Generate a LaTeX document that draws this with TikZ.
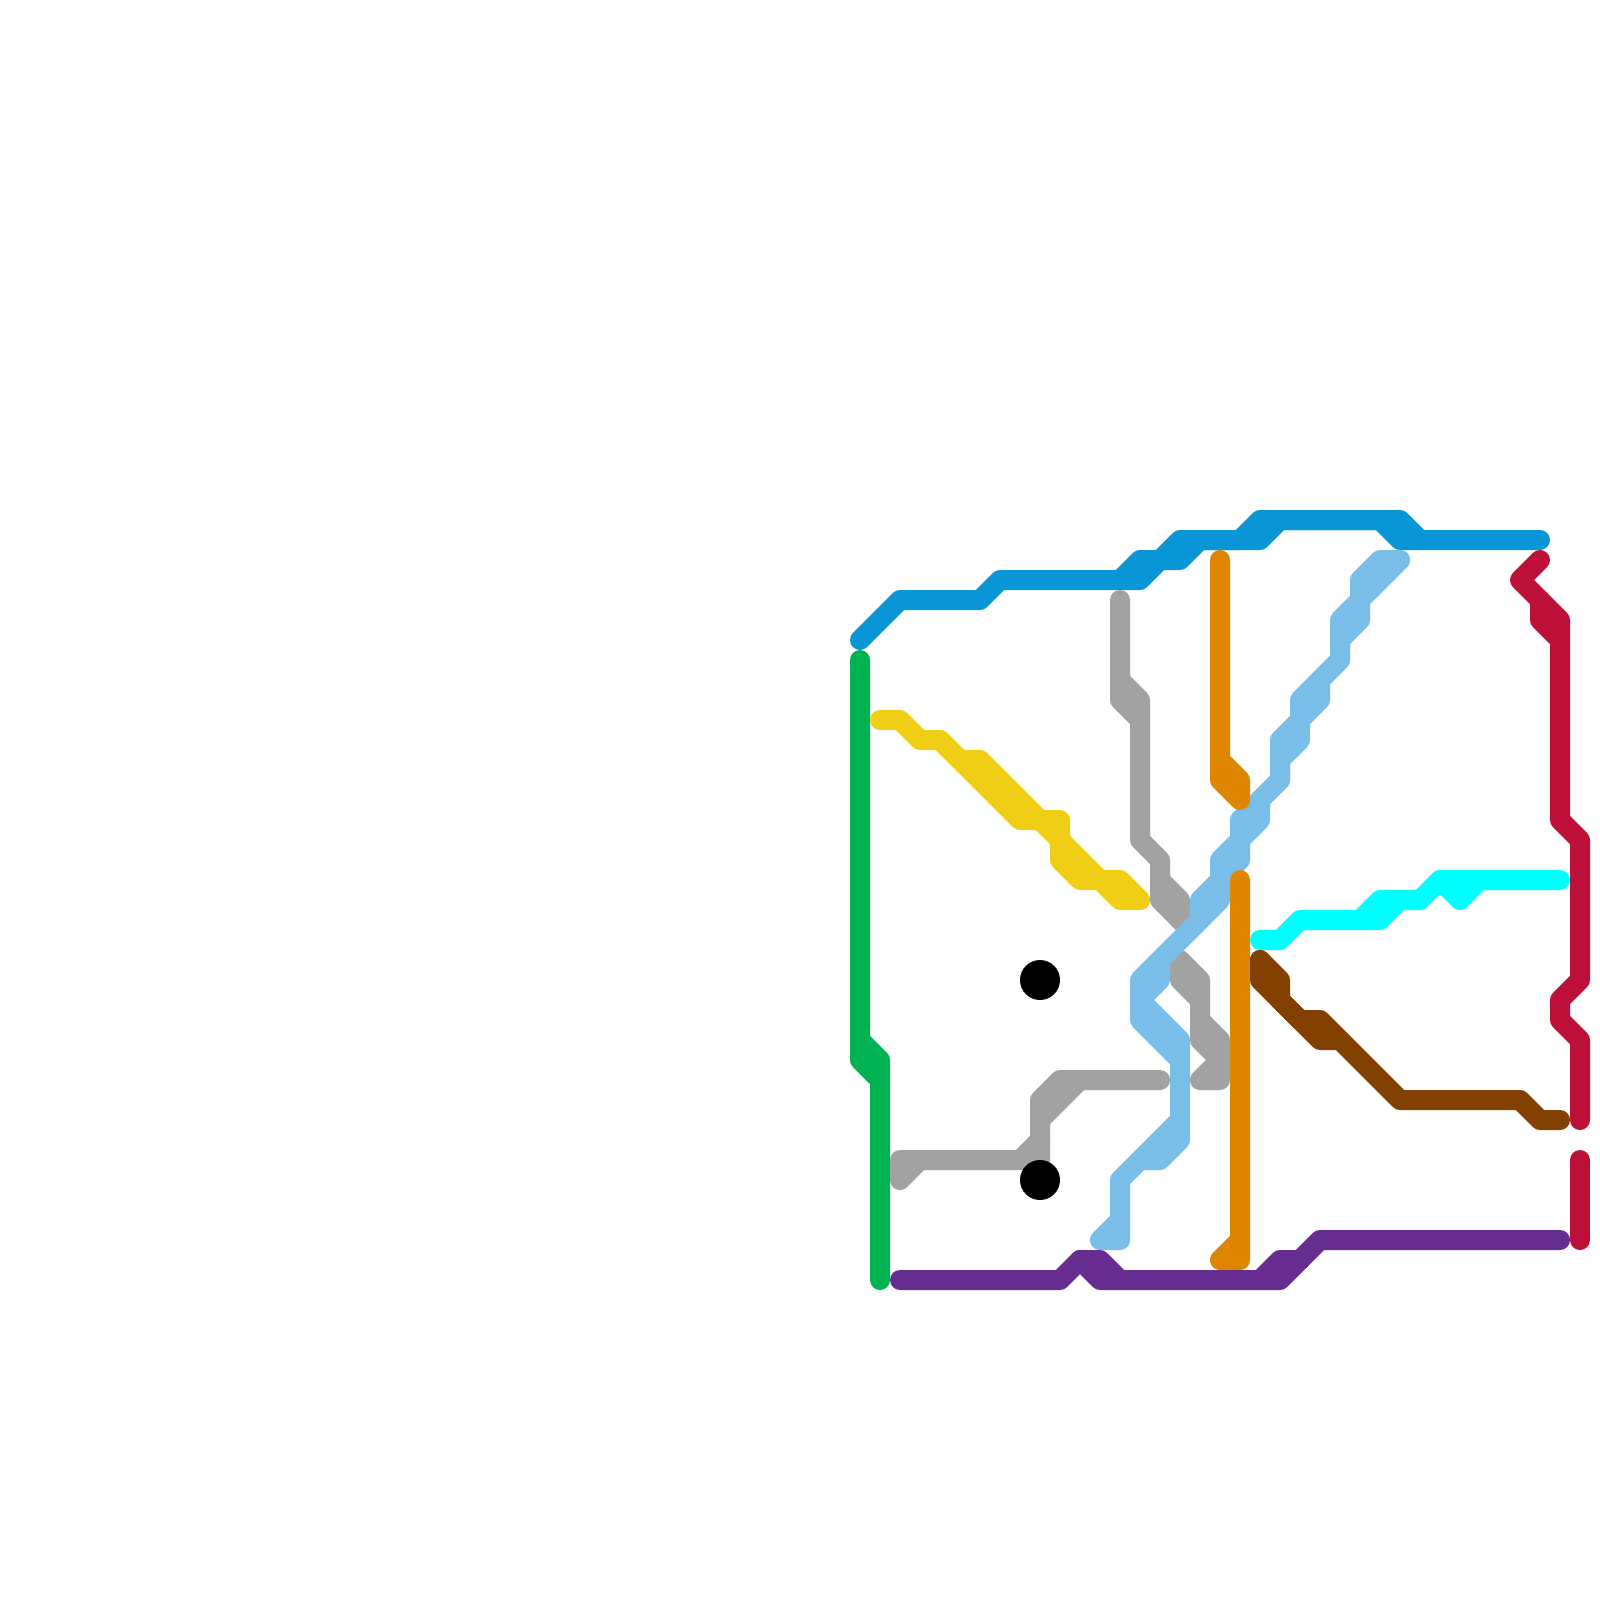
\documentclass[tikz,border=0pt]{standalone}
\definecolor{cBlue}{HTML}{0896D7}
\definecolor{cGreen}{HTML}{00B251}
\definecolor{cYellow}{HTML}{F0CE15}
\definecolor{cGray}{HTML}{A2A2A2}
\definecolor{cOrange}{HTML}{DF8600}
\definecolor{cSky}{HTML}{79BDE9}
\definecolor{cCyan}{HTML}{00FFFF}
\definecolor{cBrown}{HTML}{824100}
\definecolor{cCrimson}{HTML}{BD1038}
\definecolor{cPurple}{HTML}{662C90}
\tikzset{
  metro/.style={line width=20pt,line cap=round,line join=round,draw=#1},
  stationdot/.style={circle,fill=black,draw=none,inner sep=0pt,minimum size=40pt}
}
\begin{document}
\begin{tikzpicture}[x=1pt,y=-1pt]
\useasboundingbox (0,0) rectangle (1600,1600);
\fill[white] (0,0) rectangle (1600,1600);
% blue
\draw[metro=cBlue] (860,640)--(900,600)--(980,600)--(1000,580)--(1140,580)--(1160,560)--(1180,560)--(1200,540)--(1260,540)--(1280,520)--(1380,520)--(1400,540)--(1540,540);
\draw[metro=cBlue] (1120,580)--(1140,560)--(1160,560)--(1180,540)--(1240,540)--(1260,520)--(1400,520)--(1420,540);
% green
\draw[metro=cGreen] (860,660)--(860,1060)--(880,1080)--(880,1280);
\draw[metro=cGreen] (860,1040)--(880,1060)--(880,1080);
% yellow
\draw[metro=cYellow] (880,720)--(900,720)--(920,740)--(940,740)--(1020,820)--(1040,820)--(1100,880)--(1120,880)--(1140,900);
\draw[metro=cYellow] (940,740)--(960,760)--(980,760)--(1040,820)--(1060,820)--(1060,860)--(1080,880)--(1100,880)--(1120,900)--(1140,900);
% gray
\draw[metro=cGray] (1120,600)--(1120,700)--(1140,720)--(1140,840)--(1160,860)--(1160,900)--(1190,930);
\draw[metro=cGray] (1120,680)--(1140,700)--(1140,720);
\draw[metro=cGray] (1160,880)--(1180,900)--(1180,920);
\draw[metro=cGray] (1180,960)--(1180,980)--(1200,1000)--(1200,1040)--(1220,1060)--(1200,1080)--(1220,1080)--(1220,1040)--(1200,1020)--(1200,980)--cycle;
\draw[metro=cGray] (1160,1080)--(1060,1080)--(1040,1100)--(1040,1160)--(900,1160)--(900,1180)--(920,1160);
\draw[metro=cGray] (1080,1080)--(1040,1120);
\draw[metro=cGray] (1020,1160)--(1040,1140);
% light blue
\draw[metro=cSky] (1400,560)--(1360,600)--(1360,620)--(1340,640)--(1340,660)--(1320,680)--(1320,700)--(1300,720)--(1300,740)--(1280,760)--(1280,780)--(1260,800)--(1260,820)--(1240,840)--(1240,860)--(1220,880)--(1220,900)--(1140,980)--(1140,1020)--(1180,1060)--(1180,1120)--(1120,1180)--(1120,1220)--(1100,1240)--(1120,1240)--(1120,1180)--(1140,1160)--(1160,1160)--(1180,1140)--(1180,1040)--(1140,1000)--(1160,980)--(1160,960);
\draw[metro=cSky] (1400,560)--(1380,560)--(1360,580)--(1360,600)--(1340,620)--(1340,660)--(1300,700)--(1300,720)--(1280,740)--(1280,780)--(1240,820)--(1240,840)--(1220,860)--(1220,880)--(1200,900)--(1200,920);
% orange
\draw[metro=cOrange] (1220,560)--(1220,780)--(1240,800)--(1240,780)--(1220,760);
\draw[metro=cOrange] (1240,880)--(1240,1260)--(1220,1260)--(1240,1240);
% cyan
\draw[metro=cCyan] (1260,940)--(1280,940)--(1300,920)--(1380,920)--(1400,900)--(1420,900)--(1440,880)--(1560,880);
\draw[metro=cCyan] (1360,920)--(1380,900)--(1400,900);
\draw[metro=cCyan] (1440,880)--(1460,900)--(1480,880);
% brown
\draw[metro=cBrown] (1260,960)--(1260,980)--(1320,1040)--(1340,1040)--(1400,1100)--(1520,1100)--(1540,1120)--(1560,1120);
\draw[metro=cBrown] (1260,960)--(1280,980)--(1280,1000)--(1300,1020)--(1320,1020)--(1340,1040);
% crimson
\draw[metro=cCrimson] (1540,560)--(1520,580)--(1560,620)--(1560,820)--(1580,840)--(1580,980)--(1560,1000)--(1560,1020)--(1580,1040)--(1580,1120);
\draw[metro=cCrimson] (1540,600)--(1540,620)--(1560,640);
\draw[metro=cCrimson] (1580,1160)--(1580,1240);
% purple
\draw[metro=cPurple] (900,1280)--(1060,1280)--(1080,1260)--(1100,1260)--(1120,1280)--(1280,1280)--(1320,1240)--(1560,1240);
\draw[metro=cPurple] (1080,1260)--(1100,1280)--(1120,1280);
\draw[metro=cPurple] (1260,1280)--(1280,1260)--(1300,1260);
% stations
\node[stationdot] (stationA) at (1040,980) {};
\node[stationdot] (stationB) at (1040,1180) {};
\end{tikzpicture}
\end{document}
